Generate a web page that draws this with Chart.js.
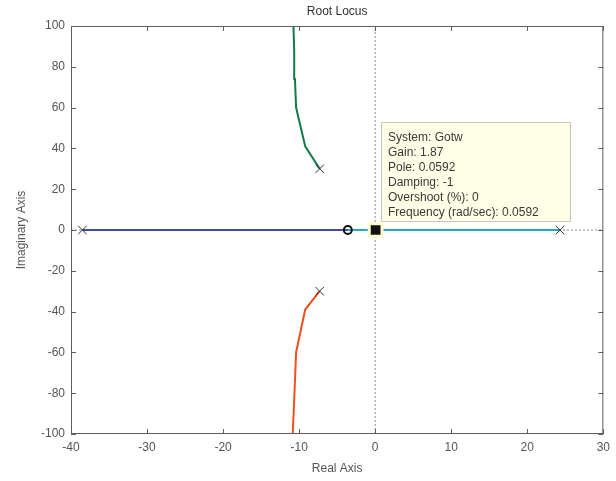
<!DOCTYPE html>
<html>
<head>
<meta charset="utf-8">
<script src="https://cdn.jsdelivr.net/npm/chart.js@4.4.1/dist/chart.umd.min.js"></script>
<style>
  html, body { margin: 0; padding: 0; background: #fff; }
  canvas { display: block; }
</style>
</head>
<body>
<canvas id="rl" width="616" height="481"></canvas>
<script>
// Open-loop poles and zeros
const poleRe = [-38.5, 24.3, -7.3, -7.3];
const poleIm = [0, 0, 30, -30];
const zeroRe = [-3.6];
const zeroIm = [0];

// Locus branches
const leftRealRe = [-38.5, -3.6];
const leftRealIm = [0, 0];
const rightRealRe = [-3.6, 24.3];
const rightRealIm = [0, 0];
const upperRe = [-7.3, -9.2, -10.4, -10.55, -10.65, -10.75];
const upperIm = [30, 41, 60, 74, 88, 100];
const lowerRe = [-7.3, -9.2, -10.4, -10.55, -10.7, -10.85];
const lowerIm = [-30, -39, -60, -74, -88, -100];

// Selected point on the locus
const selectedPole = 0.0592;
const dataTipLines = [
  "System: Gotw",
  "Gain: 1.87",
  "Pole: " + selectedPole,
  "Damping: -1",
  "Overshoot (%): 0",
  "Frequency (rad/sec): " + selectedPole
];

// Axis ticks
const xTicks = [-40, -30, -20, -10, 0, 10, 20, 30];
const yTicks = [-100, -80, -60, -40, -20, 0, 20, 40, 60, 80, 100];

const pts = (re, im) => re.map((v, i) => ({ x: v, y: im[i] }));

const FONT = "'Liberation Sans', Arial, sans-serif";
const TXT = '#555';

const frame = {
  id: 'frame',
  afterDatasetsDraw(chart) {
    const { ctx, chartArea: a, scales: { x, y } } = chart;
    ctx.save();
    // box
    ctx.strokeStyle = '#5a5f66';
    ctx.lineWidth = 1;
    ctx.strokeRect(a.left + 0.5, a.top + 0.5, a.right - a.left - 1, a.bottom - a.top - 1);
    // inward tick marks
    ctx.beginPath();
    xTicks.forEach(v => {
      const px = Math.round(x.getPixelForValue(v)) + 0.5;
      ctx.moveTo(px, a.bottom); ctx.lineTo(px, a.bottom - 5);
      ctx.moveTo(px, a.top); ctx.lineTo(px, a.top + 5);
    });
    yTicks.forEach(v => {
      const py = Math.round(y.getPixelForValue(v)) + 0.5;
      ctx.moveTo(a.left, py); ctx.lineTo(a.left + 5, py);
      ctx.moveTo(a.right, py); ctx.lineTo(a.right - 5, py);
    });
    ctx.stroke();

    // data tip
    const bx = 381, by = 122, bw = 190, bh = 100;
    ctx.fillStyle = '#ffffe8';
    ctx.fillRect(bx, by, bw, bh);
    ctx.strokeStyle = '#c8c8c0';
    ctx.strokeRect(bx + 0.5, by + 0.5, bw - 1, bh - 1);
    ctx.fillStyle = '#3a3a3a';
    ctx.font = '12px ' + FONT;
    ctx.textBaseline = 'middle';
    ctx.textAlign = 'left';
    dataTipLines.forEach((s, i) => ctx.fillText(s, bx + 7, by + 16 + i * 15));

    // titles
    ctx.fillStyle = '#333';
    ctx.textAlign = 'center';
    const cx = (a.left + a.right) / 2;
    ctx.fillText('Root Locus', cx, 12);
    ctx.fillStyle = TXT;
    ctx.fillText('Real Axis', cx, 469);
    ctx.translate(22, (a.top + a.bottom) / 2);
    ctx.rotate(-Math.PI / 2);
    ctx.fillText('Imaginary Axis', 0, 0);
    ctx.restore();
  }
};

new Chart(document.getElementById('rl'), {
  type: 'scatter',
  data: {
    datasets: [
      { // selected point
        data: [{ x: selectedPole, y: 0 }], pointStyle: 'rect', pointRadius: 9,
        backgroundColor: '#111', borderColor: '#fffbd0', borderWidth: 3, order: 0
      },
      { // poles
        data: pts(poleRe, poleIm), pointStyle: 'crossRot', pointRadius: 6,
        borderColor: '#333', borderWidth: 1, order: 1
      },
      { // zero
        data: pts(zeroRe, zeroIm), pointStyle: 'circle', pointRadius: 4,
        borderColor: '#111', backgroundColor: 'rgba(0,0,0,0)', borderWidth: 2, order: 1
      },
      { data: pts(leftRealRe, leftRealIm), showLine: true, borderColor: '#434aa3', borderWidth: 2, pointRadius: 0, order: 3 },
      { data: pts(rightRealRe, rightRealIm), showLine: true, borderColor: '#22adb2', borderWidth: 2, pointRadius: 0, order: 3 },
      { data: pts(upperRe, upperIm), showLine: true, borderColor: '#137a47', borderWidth: 2, pointRadius: 0, order: 3 },
      { data: pts(lowerRe, lowerIm), showLine: true, borderColor: '#f24f1c', borderWidth: 2, pointRadius: 0, order: 3 },
      { // real-axis reference
        data: [{ x: -40, y: 0 }, { x: 30, y: 0 }], showLine: true, borderColor: '#8a8a8a',
        borderWidth: 1, borderDash: [2, 2], pointRadius: 0, order: 10
      },
      { // imaginary-axis reference
        data: [{ x: 0, y: -100 }, { x: 0, y: 100 }], showLine: true, borderColor: '#8a8a8a',
        borderWidth: 1, borderDash: [2, 2], pointRadius: 0, order: 10
      }
    ]
  },
  options: {
    responsive: false,
    animation: false,
    devicePixelRatio: 1,
    layout: { padding: { top: 26, right: 11, left: 0, bottom: 0 } },
    plugins: { legend: { display: false }, tooltip: { enabled: false }, title: { display: false } },
    scales: {
      x: {
        type: 'linear', min: -40, max: 30,
        afterFit: s => { s.height = 47; },
        afterBuildTicks: s => { s.ticks = xTicks.map(v => ({ value: v })); },
        grid: { display: false, drawTicks: false },
        border: { display: false },
        ticks: { padding: 6, color: TXT, font: { family: FONT, size: 12 }, maxRotation: 0 }
      },
      y: {
        type: 'linear', min: -100, max: 100,
        afterFit: s => { s.width = 71; },
        afterBuildTicks: s => { s.ticks = yTicks.map(v => ({ value: v })); },
        grid: { display: false, drawTicks: false },
        border: { display: false },
        ticks: { padding: 6, color: TXT, font: { family: FONT, size: 12 } }
      }
    }
  },
  plugins: [frame]
});
</script>
</body>
</html>
